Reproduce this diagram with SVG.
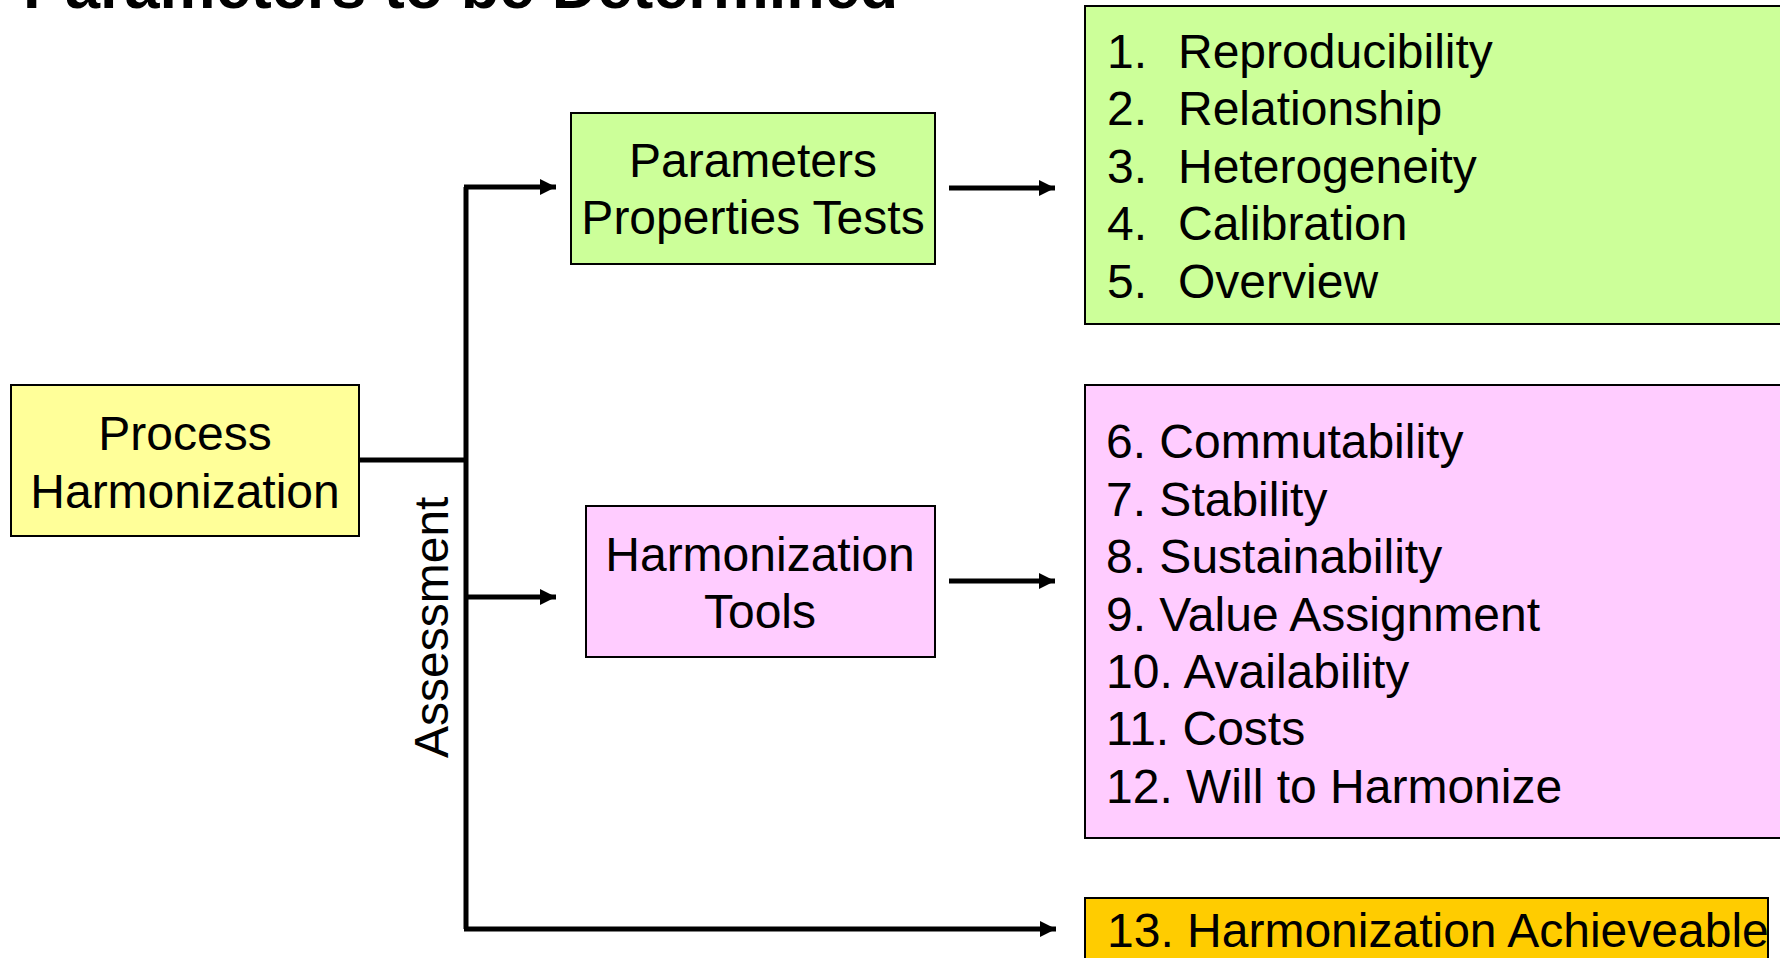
<svg xmlns="http://www.w3.org/2000/svg" width="1780" height="958" viewBox="0 0 1780 958">
<style>
  .box { stroke: #000; stroke-width: 2; }
  .t { font-family: "Liberation Sans", Arial, sans-serif; font-size: 48px; fill: #000; }
  .c { text-anchor: middle; }
  .title { font-family: "Liberation Sans", Arial, sans-serif; font-size: 63px; font-weight: bold; fill: #000; }
  .conn { stroke: #000; stroke-width: 5; fill: none; }
</style>
<defs>
  <marker id="arr" markerUnits="userSpaceOnUse" markerWidth="18" markerHeight="18" refX="16" refY="8" orient="auto">
    <path d="M0,0 L16,8 L0,16 z" fill="#000"/>
  </marker>
</defs>
<rect width="1780" height="958" fill="#fff"/>
<text class="title" x="23" y="8">Parameters to be Determined</text>

<g id="connectors">
  <line class="conn" x1="360" y1="460" x2="466" y2="460"/>
  <polyline class="conn" points="466,187 466,929"/>
  <line class="conn" x1="464" y1="187" x2="556" y2="187" marker-end="url(#arr)"/>
  <line class="conn" x1="464" y1="597" x2="556" y2="597" marker-end="url(#arr)"/>
  <line class="conn" x1="464" y1="929" x2="1056" y2="929" marker-end="url(#arr)"/>
  <line class="conn" x1="949" y1="188" x2="1055" y2="188" marker-end="url(#arr)"/>
  <line class="conn" x1="949" y1="581" x2="1055" y2="581" marker-end="url(#arr)"/>
  <text class="t" transform="translate(448,758) rotate(-90)">Assessment</text>
</g>

<g id="process">
  <rect class="box" x="11" y="385" width="348" height="151" fill="#FFFF99"/>
  <text class="t c" x="185" y="450">Process</text>
  <text class="t c" x="185" y="508">Harmonization</text>
</g>

<g id="params">
  <rect class="box" x="571" y="113" width="364" height="151" fill="#CCFF99"/>
  <text class="t c" x="753" y="177">Parameters</text>
  <text class="t c" x="753" y="234">Properties Tests</text>
</g>

<g id="tools">
  <rect class="box" x="586" y="506" width="349" height="151" fill="#FFCCFF"/>
  <text class="t c" x="760" y="571">Harmonization</text>
  <text class="t c" x="760" y="628">Tools</text>
</g>

<g id="list1">
  <rect class="box" x="1085" y="6" width="720" height="318" fill="#CCFF99"/>
  <text class="t" x="1107" y="68">1.</text><text class="t" x="1178" y="68">Reproducibility</text>
  <text class="t" x="1107" y="125">2.</text><text class="t" x="1178" y="125">Relationship</text>
  <text class="t" x="1107" y="183">3.</text><text class="t" x="1178" y="183">Heterogeneity</text>
  <text class="t" x="1107" y="240">4.</text><text class="t" x="1178" y="240">Calibration</text>
  <text class="t" x="1107" y="298">5.</text><text class="t" x="1178" y="298">Overview</text>
</g>

<g id="list2">
  <rect class="box" x="1085" y="385" width="720" height="453" fill="#FFCCFF"/>
  <text class="t" x="1106" y="458">6. Commutability</text>
  <text class="t" x="1106" y="516">7. Stability</text>
  <text class="t" x="1106" y="573">8. Sustainability</text>
  <text class="t" x="1106" y="631">9. Value Assignment</text>
  <text class="t" x="1106" y="688">10. Availability</text>
  <text class="t" x="1106" y="745">11. Costs</text>
  <text class="t" x="1106" y="803">12. Will to Harmonize</text>
</g>

<g id="result">
  <rect class="box" x="1085" y="898" width="683" height="80" fill="#FFCC00"/>
  <text class="t" x="1107" y="947">13. Harmonization Achieveable</text>
</g>
</svg>
